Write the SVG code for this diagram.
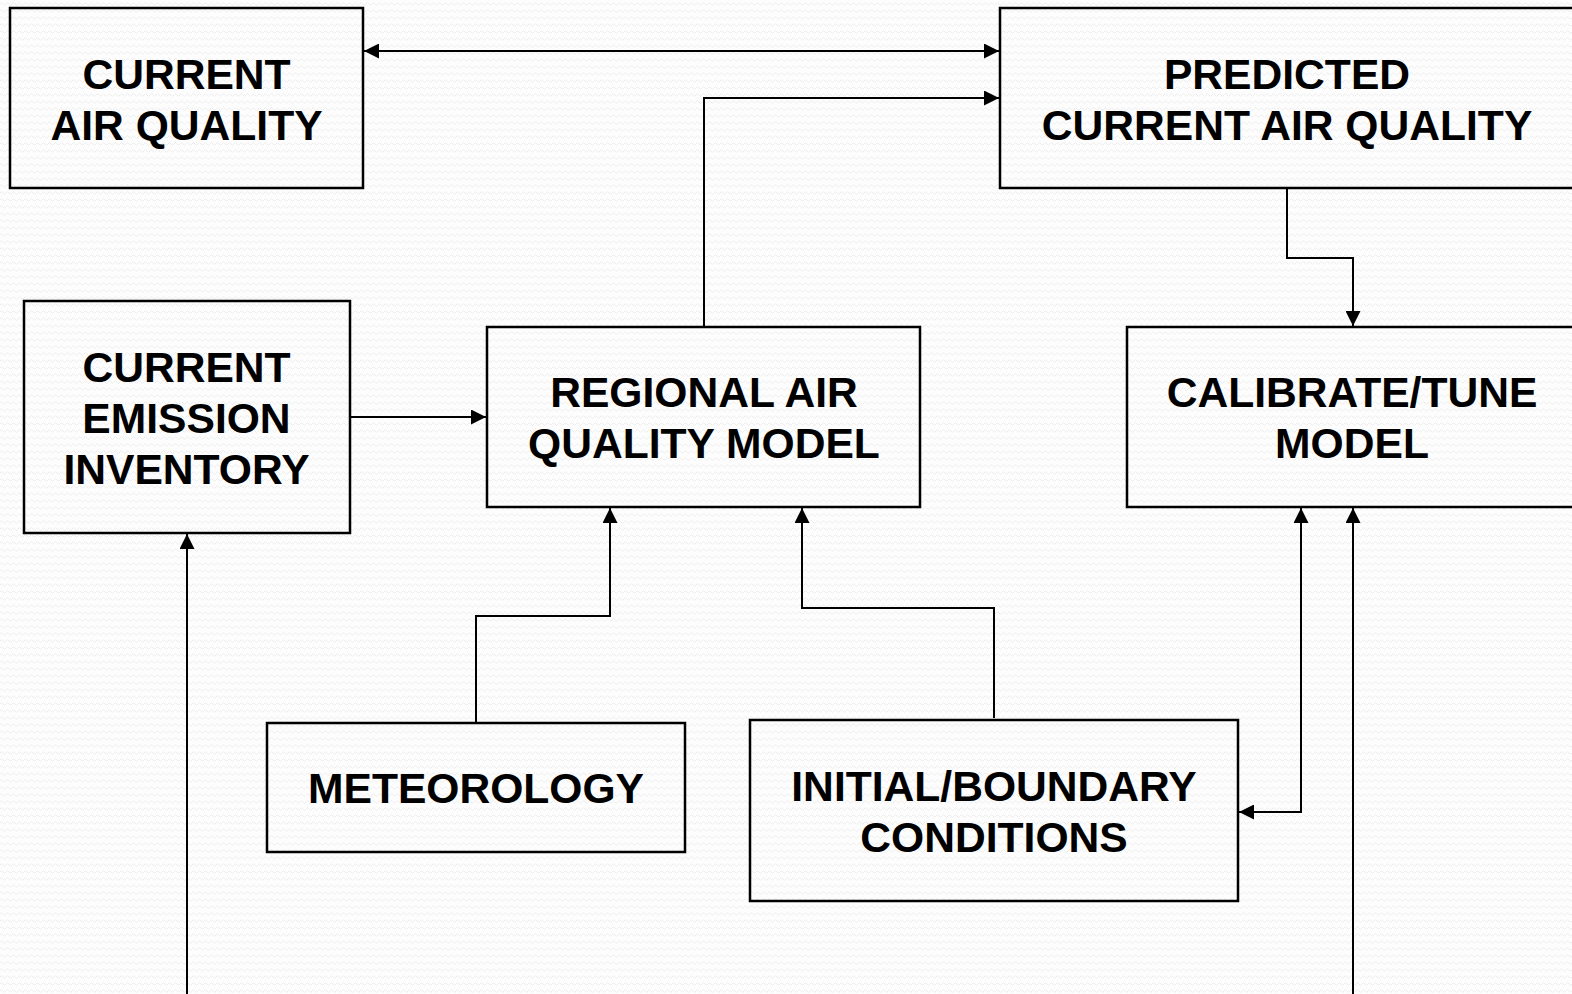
<svg xmlns="http://www.w3.org/2000/svg" width="1572" height="994" viewBox="0 0 1572 994">
<defs>
<pattern id="bg" width="6" height="7" patternUnits="userSpaceOnUse">
<rect width="6" height="7" fill="#fdfdfd"/>
<path d="M0 4 Q1.5 1 3 4 T6 4" fill="none" stroke="#ededed" stroke-width="1"/>
</pattern>
<marker id="ah" viewBox="0 0 14 14" refX="14" refY="7" markerWidth="15" markerHeight="15" markerUnits="userSpaceOnUse" orient="auto-start-reverse">
<path d="M0 0 L14 7 L0 14 Z" fill="#000"/>
</marker>
<style>
.box{fill:none;stroke:#000;stroke-width:2.5}
.lbl{font-family:"Liberation Sans",Arial,sans-serif;font-weight:bold;font-size:42.6px;fill:#000;text-anchor:middle}
.c{fill:none;stroke:#000;stroke-width:2}
</style>
</defs>
<rect width="1572" height="994" fill="url(#bg)"/>
<g id="connectors">
<path class="c" d="M364 51 L999 51" marker-start="url(#ah)" marker-end="url(#ah)"/>
<path class="c" d="M704 327 L704 98 L999 98" marker-end="url(#ah)"/>
<path class="c" d="M1287 189 L1287 258 L1353 258 L1353 326" marker-end="url(#ah)"/>
<path class="c" d="M351 417 L486 417" marker-end="url(#ah)"/>
<path class="c" d="M476 722 L476 616 L610 616 L610 508" marker-end="url(#ah)"/>
<path class="c" d="M994 718 L994 608 L802 608 L802 508" marker-end="url(#ah)"/>
<path class="c" d="M1301 508 L1301 812 L1239 812" marker-start="url(#ah)" marker-end="url(#ah)"/>
<path class="c" d="M187 994 L187 534" marker-end="url(#ah)"/>
<path class="c" d="M1353 994 L1353 508" marker-end="url(#ah)"/>
</g>
<g id="current-air-quality">
<rect class="box" x="10" y="8" width="353" height="180"/>
<text class="lbl" x="186.5" y="89">CURRENT</text>
<text class="lbl" x="186.5" y="140">AIR QUALITY</text>
</g>
<g id="predicted-current-air-quality">
<rect class="box" x="1000" y="8" width="600" height="180"/>
<text class="lbl" x="1287" y="89">PREDICTED</text>
<text class="lbl" x="1287" y="140">CURRENT AIR QUALITY</text>
</g>
<g id="current-emission-inventory">
<rect class="box" x="24" y="301" width="326" height="232"/>
<text class="lbl" x="186.5" y="382">CURRENT</text>
<text class="lbl" x="186.5" y="433">EMISSION</text>
<text class="lbl" x="186.5" y="484">INVENTORY</text>
</g>
<g id="regional-air-quality-model">
<rect class="box" x="487" y="327" width="433" height="180"/>
<text class="lbl" x="704" y="407">REGIONAL AIR</text>
<text class="lbl" x="704" y="458">QUALITY MODEL</text>
</g>
<g id="calibrate-tune-model">
<rect class="box" x="1127" y="327" width="480" height="180"/>
<text class="lbl" x="1352" y="407">CALIBRATE/TUNE</text>
<text class="lbl" x="1352" y="458">MODEL</text>
</g>
<g id="meteorology">
<rect class="box" x="267" y="723" width="418" height="129"/>
<text class="lbl" x="476" y="803">METEOROLOGY</text>
</g>
<g id="initial-boundary-conditions">
<rect class="box" x="750" y="720" width="488" height="181"/>
<text class="lbl" x="994" y="801">INITIAL/BOUNDARY</text>
<text class="lbl" x="994" y="852">CONDITIONS</text>
</g>
</svg>
